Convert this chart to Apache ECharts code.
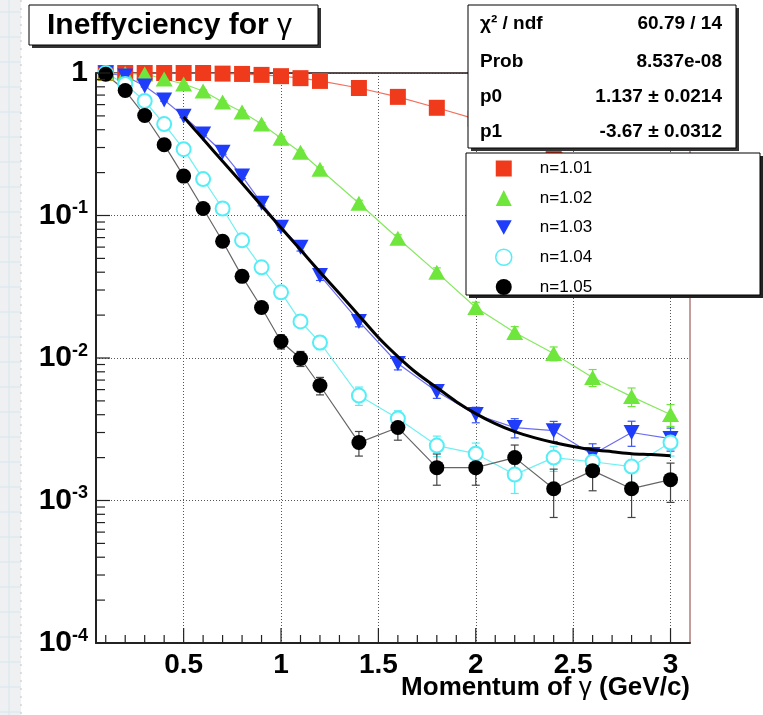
<!DOCTYPE html>
<html><head><meta charset="utf-8">
<script src="https://cdn.jsdelivr.net/npm/echarts@6/dist/echarts.min.js"></script>
<style>html,body{margin:0;padding:0;background:#fff}#c{width:763px;height:715px}</style>
</head><body><div id="c"></div>
<script>
// ---------- data ----------
const momentum = [0.1,0.2,0.3,0.4,0.5,0.6,0.7,0.8,0.9,1.0,1.1,1.2,1.4,1.6,1.8,2.0,2.2,2.4,2.6,2.8,3.0];

const ineffN101 = [1.0,1.0,1.0,1.0,1.0,1.0,0.99,0.985,0.97,0.95,0.92,0.88,0.785,0.68,0.57,0.475,0.37,0.29,0.225,0.17,0.13];
const errN101   = [0.01,0.01,0.01,0.01,0.01,0.01,0.01,0.01,0.012,0.012,0.012,0.012,0.012,0.012,0.012,0.012,0.012,0.012,0.012,0.012,0.012];

const ineffN102 = [1.0,0.99,0.984,0.907,0.837,0.747,0.625,0.532,0.438,0.349,0.278,0.211,0.122,0.0692,0.0399,0.0226,0.0151,0.01075,0.0073,0.00536,0.00401];
const errN102   = [0.01,0.01,0.01,0.015,0.015,0.015,0.015,0.015,0.012,0.01,0.009,0.008,0.006,0.004,0.003,0.002,0.0015,0.0012,0.001,0.0008,0.0007];

const ineffN103 = [1.0,0.953,0.81,0.646,0.498,0.373,0.278,0.189,0.122,0.0827,0.0598,0.038,0.01805,0.00915,0.00581,0.00401,0.00325,0.00309,0.0021,0.003,0.00272];
const errN103   = [0.01,0.01,0.012,0.012,0.012,0.01,0.009,0.007,0.005,0.004,0.0035,0.003,0.0015,0.0009,0.0006,0.0005,0.0005,0.0005,0.0004,0.0006,0.0005];

const ineffN104 = [1.0,0.837,0.636,0.438,0.292,0.18,0.112,0.067,0.0433,0.0289,0.01805,0.01285,0.00545,0.00376,0.00243,0.00213,0.00152,0.002,0.00187,0.00173,0.00255];
const errN104   = [0.01,0.012,0.012,0.012,0.01,0.008,0.006,0.004,0.003,0.002,0.0016,0.0014,0.0008,0.0005,0.0004,0.0004,0.0004,0.0004,0.0004,0.0004,0.0005];

const ineffN105 = [0.98,0.753,0.503,0.314,0.189,0.112,0.0659,0.0374,0.0226,0.01306,0.00992,0.00641,0.00255,0.00325,0.0017,0.0017,0.002,0.00121,0.00162,0.00121,0.0014];
const errN105   = [0.01,0.012,0.012,0.01,0.008,0.006,0.004,0.003,0.002,0.0015,0.0012,0.0009,0.0005,0.0006,0.00042,0.00042,0.00045,0.00045,0.00045,0.00045,0.00043];

// fit curve
const fitX = [0.5,0.6,0.7,0.8,0.9,1.0,1.1,1.2,1.3,1.4,1.5,1.6,1.7,1.8,1.9,2.0,2.1,2.2,2.3,2.4,2.5,2.6,2.7,2.8,2.9,3.0];
const fitY = [0.491,0.3436,0.2406,0.1685,0.1171,0.082,0.0574,0.0402,0.0284,0.0199,0.01393,0.01024,0.00778,0.0062,0.00494,0.00407,0.00346,0.00304,0.00276,0.00255,0.00239,0.00227,0.0022,0.00213,0.0021,0.00206];

const seriesNames = ['n=1.01','n=1.02','n=1.03','n=1.04','n=1.05'];
const xTickLabels = [0.5,1,1.5,2,2.5,3];
const titleText = 'Ineffyciency for ';
const xAxisTitleA = 'Momentum of ';
const xAxisTitleB = ' (GeV/c)';
const statsRows = [['χ² / ndf','60.79 / 14'],['Prob','8.537e-08'],['p0','1.137 ± 0.0214'],['p1','-3.67 ± 0.0312']];

// ---------- styles ----------
const FONT = '"Liberation Sans", Arial, Helvetica, sans-serif';
const X_MIN = 0.05, X_MAX = 3.1, Y_MIN = 1e-4, Y_MAX = 1;
const markerColors = ['#ef3b1c','#6ee63c','#1e3cfa','#55eef6','#000000'];
const lineColors   = ['#f4705e','#86e860','#6c6cf0','#70f0f2','#666666'];
const errColors    = ['#f4705e','#6ee63c','#3a55f5','#55eef6','#444444'];
const downTri = 'path://M0,0 L20,0 L10,18 Z';
const symbols = ['rect','triangle',downTri,'emptyCircle','circle'];
const symSizes = [16,[17,15],[16,15],14,15];
const values = [ineffN101,ineffN102,ineffN103,ineffN104,ineffN105];
const errors = [errN101,errN102,errN103,errN104,errN105];

// axis tick marks (positions only)
const yTickMarks = [];
for (let e = -4; e <= -1; e++) for (let k = 1; k <= 9; k++) yTickMarks.push([X_MIN, k * Math.pow(10, e), k === 1 ? 14 : 9]);
yTickMarks.push([X_MIN, 1, 14]);
const xTickMarks = [];
for (let i = 1; i <= 30; i++) xTickMarks.push([i / 10, Y_MIN, i % 5 === 0 ? 15 : 8]);

const series = [];
values.forEach((vals, s) => {
  series.push({
    type: 'custom', name: 'err' + s, silent: true, z: 2,
    data: momentum.map((x, i) => [x, vals[i], errors[s][i]]),
    encode: {x: 0, y: 1},
    renderItem: (params, api) => {
      const x = api.value(0), y = api.value(1), e = api.value(2);
      const top = api.coord([x, y + e]);
      const bot = api.coord([x, Math.max(y - e, Y_MIN)]);
      const c = errColors[s];
      return {type: 'group', children: [
        {type: 'line', shape: {x1: top[0], y1: top[1], x2: bot[0], y2: bot[1]}, style: {stroke: c, lineWidth: 1.2}},
        {type: 'line', shape: {x1: top[0]-4, y1: top[1], x2: top[0]+4, y2: top[1]}, style: {stroke: c, lineWidth: 1.2}},
        {type: 'line', shape: {x1: bot[0]-4, y1: bot[1], x2: bot[0]+4, y2: bot[1]}, style: {stroke: c, lineWidth: 1.2}}
      ]};
    }
  });
});
values.forEach((vals, s) => {
  series.push({
    type: 'line', name: seriesNames[s], z: 3,
    data: momentum.map((x, i) => [x, vals[i]]),
    symbol: symbols[s], symbolSize: symSizes[s], showAllSymbol: true,
    lineStyle: {color: lineColors[s], width: 1.2},
    itemStyle: s === 3 ? {color: markerColors[s], borderColor: markerColors[s], borderWidth: 1.5} : {color: markerColors[s], borderWidth: 0},
    emphasis: {disabled: true}
  });
});
series.push({
  type: 'line', name: 'fit', z: 4, smooth: 0.3, symbol: 'none',
  data: fitX.map((x, i) => [x, fitY[i]]),
  lineStyle: {color: '#000', width: 3}, emphasis: {disabled: true}
});
series.push({
  type: 'custom', name: 'yticks', silent: true, z: 5, clip: false,
  data: yTickMarks, encode: {x: 0, y: 1},
  renderItem: (params, api) => {
    const p = api.coord([api.value(0), api.value(1)]);
    return {type: 'line', shape: {x1: p[0], y1: p[1], x2: p[0] + api.value(2), y2: p[1]}, style: {stroke: '#222', lineWidth: 1.2}};
  }
});
series.push({
  type: 'custom', name: 'xticks', silent: true, z: 5, clip: false,
  data: xTickMarks, encode: {x: 0, y: 1},
  renderItem: (params, api) => {
    const p = api.coord([api.value(0), api.value(1)]);
    return {type: 'line', shape: {x1: p[0], y1: p[1], x2: p[0], y2: p[1] - api.value(2)}, style: {stroke: '#222', lineWidth: 1.2}};
  }
});

// decorative left strip
const graphics = [{type: 'rect', shape: {x: 0, y: 0, width: 21, height: 715}, style: {fill: '#eef0f1'}, z: 0}];
graphics.push({type: 'line', shape: {x1: 9, y1: 0, x2: 9, y2: 715}, style: {stroke: '#d6e8ef', lineWidth: 1}, z: 0});
for (let y = 12; y < 715; y += 25) graphics.push({type: 'line', shape: {x1: 0, y1: y, x2: 21, y2: y}, style: {stroke: '#d6e8ef', lineWidth: 1}, z: 0});
graphics.push({type: 'line', shape: {x1: 21, y1: 0, x2: 21, y2: 715}, style: {stroke: '#c4c4c4', lineWidth: 1, lineDash: [2, 6]}, z: 0});

// boxes on a top layer
function box(x, y, w, h, shadow) {
  graphics.push({type: 'rect', zlevel: 1, z: 1, shape: {x: x + 3, y: y + 3, width: w, height: h}, style: {fill: shadow}});
  graphics.push({type: 'rect', zlevel: 1, z: 2, shape: {x: x, y: y, width: w, height: h}, style: {fill: '#fff', stroke: '#000', lineWidth: 1}});
}
box(29, 5, 289, 40, '#333');
graphics.push({type: 'text', zlevel: 1, z: 3, x: 47, y: 26, style: {text: '{b|' + titleText + '}{g|γ}', verticalAlign: 'middle',
  rich: {b: {fontSize: 30, fontWeight: 'bold', fontFamily: FONT, fill: '#000'}, g: {fontSize: 30, fontFamily: FONT, fill: '#000'}}}});
box(468, 5, 268, 143, '#333');
const rowY = [24, 62, 97, 132];
statsRows.forEach((r, i) => {
  graphics.push({type: 'text', zlevel: 1, z: 3, x: 480, y: rowY[i], style: {text: r[0], font: 'bold 19px ' + FONT, fill: '#000', verticalAlign: 'middle'}});
  graphics.push({type: 'text', zlevel: 1, z: 3, x: 722, y: rowY[i], style: {text: r[1], font: 'bold 19px ' + FONT, fill: '#000', align: 'right', verticalAlign: 'middle'}});
});
box(466, 153, 294, 142, '#222');
// x-axis title
graphics.push({type: 'text', z: 10, x: 690, y: 688, style: {text: '{b|' + xAxisTitleA + '}{g|γ}{b|' + xAxisTitleB + '}', align: 'right', verticalAlign: 'middle',
  rich: {b: {fontSize: 26, fontWeight: 'bold', fontFamily: FONT, fill: '#000'}, g: {fontSize: 26, fontFamily: FONT, fill: '#000'}}}});

const option = {
  animation: false,
  backgroundColor: '#fff',
  grid: {left: 96, top: 73, width: 594, height: 570, show: true, borderColor: '#8a3a3a', borderWidth: 1, backgroundColor: 'transparent', outerBoundsMode: 'none', containLabel: false},
  xAxis: [{
    type: 'value', min: X_MIN, max: X_MAX,
    axisLine: {show: true, onZero: false, lineStyle: {color: '#222', width: 2}},
    axisTick: {show: false, customValues: xTickLabels},
    axisLabel: {customValues: xTickLabels, fontSize: 28, fontWeight: 'bold', fontFamily: FONT, color: '#000', margin: 8, formatter: v => String(v)},
    splitLine: {show: true, lineStyle: {color: '#555', type: [1, 2], width: 1}}
  }, {
    type: 'value', position: 'top', min: X_MIN, max: X_MAX,
    axisLine: {show: true, onZero: false, lineStyle: {color: '#333', width: 1.5}},
    axisTick: {show: false}, axisLabel: {show: false}, splitLine: {show: false}
  }],
  yAxis: {
    type: 'log', logBase: 10, min: Y_MIN, max: Y_MAX,
    axisLine: {show: true, lineStyle: {color: '#222', width: 2}},
    axisTick: {show: false}, minorTick: {show: false},
    axisLabel: {margin: 8, formatter: v => { const e = Math.round(Math.log10(v)); return e === 0 ? '{b|1}' : '{b|10}{s|' + e + '}'; },
      rich: {b: {fontSize: 30, fontWeight: 'bold', fontFamily: FONT, color: '#000', lineHeight: 32},
             s: {fontSize: 18, fontWeight: 'bold', fontFamily: FONT, color: '#000', verticalAlign: 'top', lineHeight: 32}}},
    splitLine: {show: true, lineStyle: {color: '#555', type: [1, 2], width: 1}}
  },
  legend: {
    orient: 'vertical', left: 466, top: 153, padding: [7, 0, 0, 29], itemWidth: 16, itemHeight: 16, itemGap: 12.5,
    selectedMode: false, zlevel: 1, z: 10,
    textStyle: {fontSize: 17, fontFamily: FONT, color: '#000', padding: [0, 0, 0, 23], lineHeight: 16},
    data: [
      {name: seriesNames[0], icon: 'rect', itemStyle: {color: markerColors[0]}},
      {name: seriesNames[1], icon: 'triangle', itemStyle: {color: markerColors[1]}},
      {name: seriesNames[2], icon: downTri, itemStyle: {color: markerColors[2]}},
      {name: seriesNames[3], icon: 'circle', itemStyle: {color: '#fff', borderColor: markerColors[3], borderWidth: 1.5}},
      {name: seriesNames[4], icon: 'circle', itemStyle: {color: markerColors[4]}}
    ]
  },
  graphic: graphics,
  series: series
};
const chart = echarts.init(document.getElementById('c'), null, {renderer: 'canvas'});
chart.setOption(option);
</script></body></html>
